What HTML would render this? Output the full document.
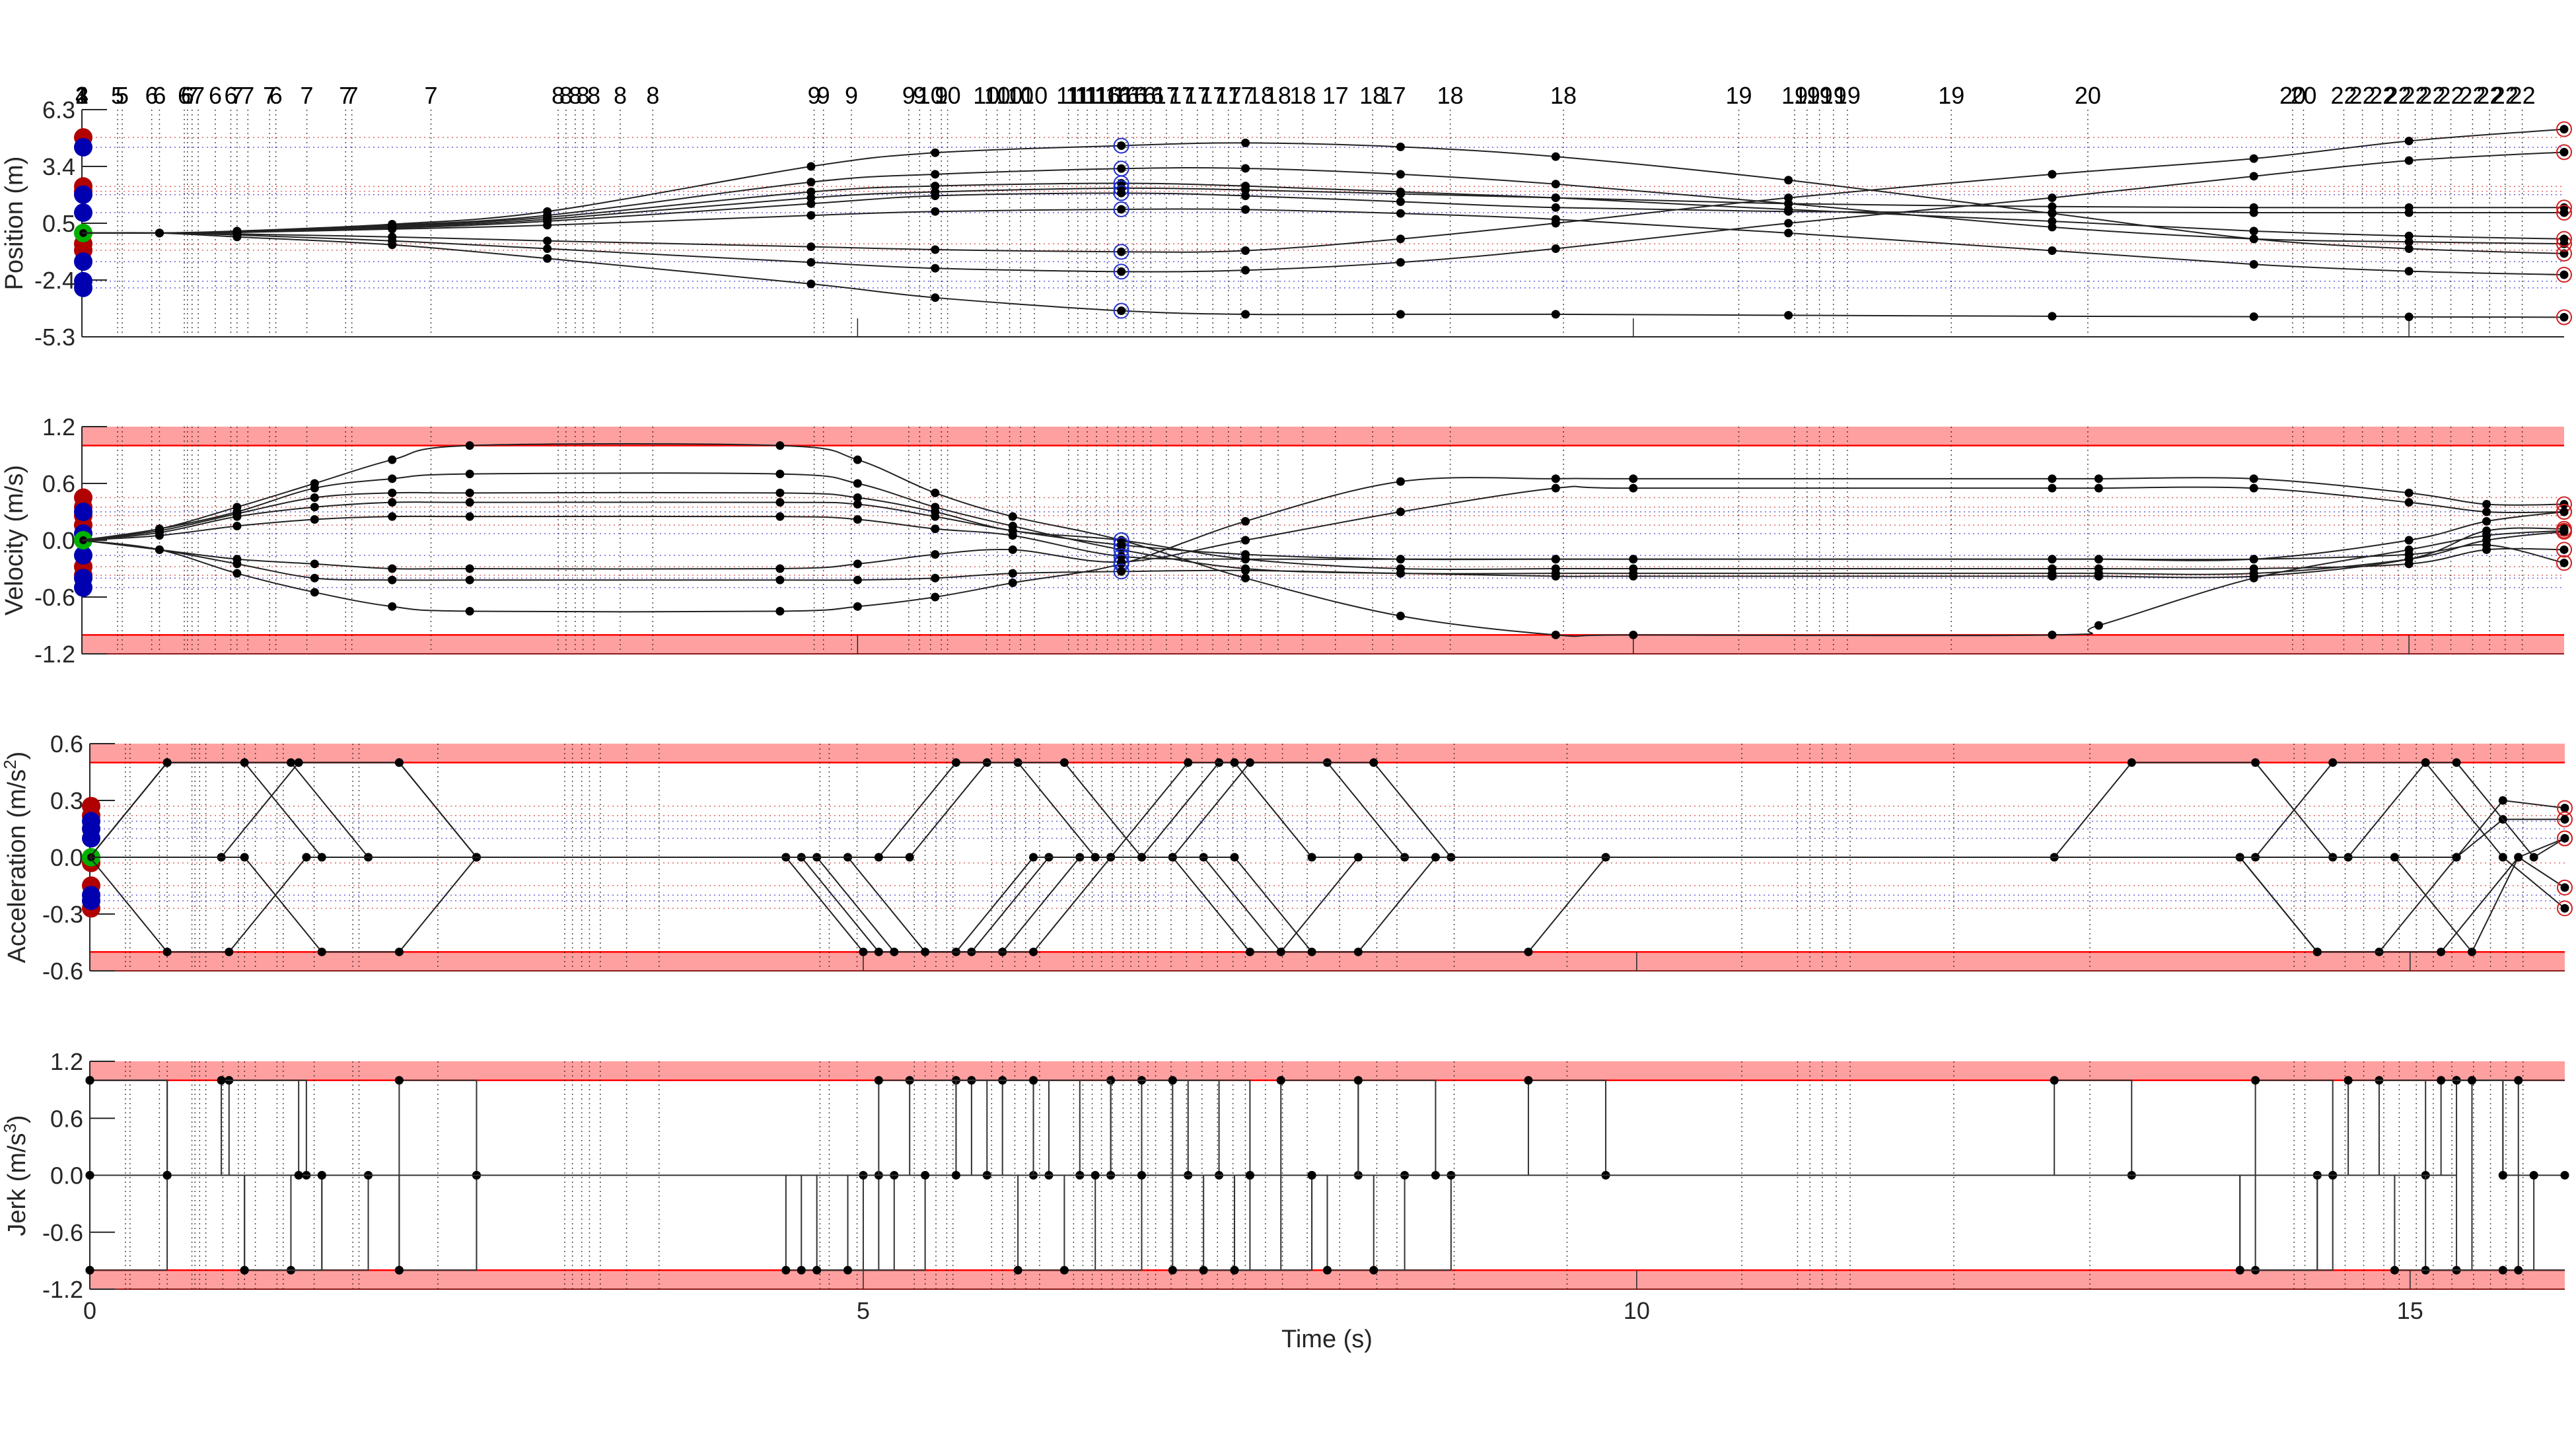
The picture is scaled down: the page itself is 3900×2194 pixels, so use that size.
<!DOCTYPE html>
<html><head><meta charset="utf-8"><style>
html,body{margin:0;padding:0;background:#fff;}
svg{display:block;font-family:"Liberation Sans","DejaVu Sans",sans-serif;}
</style></head><body>
<svg id="chart" xmlns="http://www.w3.org/2000/svg" width="3900" height="2194" viewBox="0 0 3900 2194">
<rect x="0" y="0" width="3900" height="2194" fill="#fff"/>
<text x="2009" y="2040" font-size="38" fill="#262626" text-anchor="middle">Time (s)</text>
<text transform="translate(34,338) rotate(-90)" font-size="38" fill="#262626" text-anchor="middle">Position (m)</text>
<text transform="translate(34,818) rotate(-90)" font-size="38" fill="#262626" text-anchor="middle">Velocity (m/s)</text>
<text transform="translate(38,1298) rotate(-90)" font-size="38" fill="#262626" text-anchor="middle">Acceleration (m/s<tspan font-size="26" dy="-14">2</tspan><tspan dy="14">)</tspan></text>
<text transform="translate(38,1780) rotate(-90)" font-size="38" fill="#262626" text-anchor="middle">Jerk (m/s<tspan font-size="26" dy="-14">3</tspan><tspan dy="14">)</tspan></text>
</svg>
<script>
// ---- data ----
const eventTimes = [0,0,0,0,0.23,0.26,0.45,0.5,0.66,0.68,0.71,0.75,0.86,0.96,1.0,1.07,1.21,1.25,1.45,1.7,1.74,2.25,3.07,3.12,3.18,3.23,3.3,3.47,3.68,4.72,4.78,4.96,5.33,5.4,5.47,5.54,5.58,5.83,5.9,5.98,6.05,6.14,6.36,6.42,6.48,6.54,6.61,6.68,6.73,6.78,6.84,6.89,6.99,7.09,7.19,7.29,7.39,7.47,7.6,7.71,7.87,8.08,8.32,8.45,8.82,9.55,10.68,11.04,11.12,11.2,11.29,11.38,12.05,12.93,14.25,14.32,14.58,14.7,14.83,14.93,15.04,15.15,15.27,15.41,15.52,15.62,15.73];
const eventLabels = ['1','2','3','4','5','5','6','6','6','6','7','7','6','6','7','7','7','6','7','7','7','7','8','8','8','8','8','8','8','9','9','9','9','9','10','9','10','10','10','10','10','10','11','11','11','11','16','16','16','16','16','16','17','17','17','17','17','17','18','18','18','17','18','17','18','18','19','19','19','19','19','19','19','20','20','20','22','22','22','22','22','22','22','22','22','22','22'];

const posTicks = [6.3,3.4,0.5,-2.4,-5.3];
const posTickLabels = ['6.3','3.4','0.5','-2.4','-5.3'];
const velTicks = [1.2,0.6,0,-0.6,-1.2];
const velTickLabels = ['1.2','0.6','0.0','-0.6','-1.2'];
const accTicks = [0.6,0.3,0,-0.3,-0.6];
const accTickLabels = ['0.6','0.3','0.0','-0.3','-0.6'];
const jerkTicks = [1.2,0.6,0,-0.6,-1.2];
const jerkTickLabels = ['1.2','0.6','0.0','-0.6','-1.2'];
const timeTicks = [0,5,10,15];
const timeTickLabels = ['0','5','10','15'];

const posKnotTimes = [0,0.5,1,2,3,4.7,5.5,6.7,7.5,8.5,9.5,11,12.7,14,15,16];
const posSeries1 = [0,0,0.1,0.45,1.1,3.4,4.1,4.46,4.6,4.4,3.9,2.7,1.0,-0.3,-0.8,-1.05];
const posSeries2 = [0,0,0.08,0.4,0.9,2.6,3.0,3.29,3.3,3.0,2.5,1.5,0.3,-0.3,-0.45,-0.55];
const posSeries3 = [0,0,0.06,0.35,0.8,2.1,2.4,2.54,2.4,2.1,1.8,1.2,0.6,0.1,-0.15,-0.3];
const posSeries4 = [0,0,0.05,0.3,0.7,1.8,2.1,2.29,2.2,2.0,1.8,1.5,1.35,1.3,1.3,1.3];
const posSeries5 = [0,0,0.04,0.25,0.6,1.5,1.9,2.04,1.9,1.6,1.3,1.1,1.05,1.04,1.04,1.04];
const posSeries6 = [0,0,0.03,0.2,0.4,0.9,1.1,1.21,1.2,1.0,0.7,0.0,-0.9,-1.6,-1.95,-2.13];
const posSeries7 = [0,0,-0.05,-0.2,-0.4,-0.7,-0.85,-0.96,-0.9,-0.3,0.5,1.8,3.0,3.8,4.7,5.3];
const posSeries8 = [0,0,-0.1,-0.4,-0.8,-1.5,-1.8,-1.97,-1.9,-1.5,-0.8,0.5,1.8,2.9,3.7,4.13];
const posSeries9 = [0,0,-0.2,-0.6,-1.3,-2.6,-3.3,-3.97,-4.15,-4.15,-4.15,-4.2,-4.25,-4.27,-4.28,-4.3];
const posStartRed = [4.88,2.38,2.13,-0.55,-0.88];
const posStartBlue = [4.38,1.96,1.04,-1.46,-2.46,-2.8];

const velKnotTimes = [0,0.5,1,1.5,2,2.5,4.5,5,5.5,6,6.7,7.5,8.5,9.5,10,12.7,13,14,15,15.5,16];
const velSeries1 = [0,0.12,0.35,0.6,0.85,1.0,1.0,0.85,0.5,0.25,0.0,-0.4,-0.8,-1.0,-1.0,-1.0,-0.9,-0.4,-0.1,0.05,0.1];
const velSeries2 = [0,-0.1,-0.35,-0.55,-0.7,-0.75,-0.75,-0.7,-0.6,-0.45,-0.25,0.2,0.62,0.65,0.65,0.65,0.65,0.65,0.5,0.38,0.38];
const velSeries3 = [0,0.12,0.3,0.55,0.65,0.7,0.7,0.6,0.35,0.15,-0.1,-0.3,-0.35,-0.35,-0.35,-0.35,-0.35,-0.35,-0.2,0.0,0.09];
const velSeries4 = [0,0.1,0.28,0.45,0.5,0.5,0.5,0.45,0.3,0.1,0.0,-0.2,-0.3,-0.3,-0.3,-0.3,-0.3,-0.3,-0.25,-0.1,-0.1];
const velSeries5 = [0,0.08,0.25,0.35,0.4,0.4,0.4,0.38,0.25,0.1,-0.05,-0.15,-0.2,-0.2,-0.2,-0.2,-0.2,-0.2,-0.15,-0.05,-0.24];
const velSeries6 = [0,0.05,0.15,0.22,0.25,0.25,0.25,0.22,0.12,0.05,-0.17,-0.2,-0.2,-0.2,-0.2,-0.2,-0.2,-0.2,0.0,0.2,0.3];
const velSeries7 = [0,-0.1,-0.2,-0.25,-0.3,-0.3,-0.3,-0.25,-0.15,-0.1,-0.23,0.0,0.3,0.55,0.55,0.55,0.55,0.55,0.4,0.3,0.3];
const velSeries8 = [0,-0.1,-0.25,-0.4,-0.42,-0.42,-0.42,-0.42,-0.4,-0.35,-0.33,-0.32,-0.35,-0.38,-0.38,-0.38,-0.38,-0.38,-0.2,0.1,0.12];
const velStartRed = [0.45,0.35,0.26,0.16,-0.28,-0.37];
const velStartBlue = [0.3,0.07,-0.16,-0.4,-0.5];

const accTimes1 = [0,0.5,2.0,2.5,4.5,5.0,5.9,6.4,7.0,7.5,9.3,9.8,12.7,13.2,14.0,14.5,15.3,15.6,16];
const accVals1 = [0,0.5,0.5,0,0,-0.5,-0.5,0,0,-0.5,-0.5,0,0,0.5,0.5,0,0,0.3,0.26];
const jerkVals1 = [1,0,-1,0,-1,0,1,0,-1,0,1,0,1,0,-1,0,1,0];
const accTimes2 = [0,0.5,0.9,1.4,4.6,5.1,5.7,6.2,6.8,7.3,8.0,8.5,13.9,14.4,14.8,15.3,15.6,16];
const accVals2 = [0,-0.5,-0.5,0,0,-0.5,-0.5,0,0,0.5,0.5,0,0,-0.5,-0.5,0,0.2,0.2];
const jerkVals2 = [-1,0,1,0,-1,0,1,0,1,0,-1,0,-1,0,1,1,0];
const accTimes3 = [0,0.5,1.3,1.8,4.7,5.2,5.6,6.1,6.6,7.1,7.4,7.9,14.6,15.1,15.3,15.8,16];
const accVals3 = [0,0.5,0.5,0,0,-0.5,-0.5,0,0,0.5,0.5,0,0,0.5,0.5,0,0.1];
const jerkVals3 = [1,0,-1,0,-1,0,1,0,1,0,-1,0,1,0,-1,0];
const accTimes4 = [0,0.85,1.35,2.0,2.5,4.9,5.4,6.1,6.6,7.2,7.7,8.2,14.0,14.5,15.1,15.6,16];
const accVals4 = [0,0,0.5,0.5,0,0,-0.5,-0.5,0,0,-0.5,0,0,0.5,0.5,0,-0.27];
const jerkVals4 = [0,1,0,-1,0,-1,0,1,0,-1,1,0,1,0,-1,-1];
const accTimes5 = [0,1.0,1.5,2.0,2.5,5.3,5.8,6.0,6.5,7.0,7.5,8.3,8.8,13.9,14.4,15.2,15.7,16];
const accVals5 = [0,0,-0.5,-0.5,0,0,0.5,0.5,0,0,0.5,0.5,0,0,-0.5,-0.5,0,-0.16];
const jerkVals5 = [0,-1,0,1,0,1,0,-1,0,1,0,-1,0,-1,0,1,-1];
const accTimes6 = [0,0.5,1.0,1.5,5.1,5.6,6.3,6.8,7.4,7.9,8.2,8.7,14.9,15.4,15.7,16];
const accVals6 = [0,0.5,0.5,0,0,0.5,0.5,0,0,-0.5,-0.5,0,0,-0.5,0,0.1];
const jerkVals6 = [1,0,-1,0,1,0,-1,0,-1,0,1,0,-1,1,1];
const accStartRed = [0.27,0.22,-0.03,-0.15,-0.27];
const accStartBlue = [0.19,0.15,0.1,-0.2,-0.23];
const jerkStart = [1,-1];

// ---- layout ----
const NS='http://www.w3.org/2000/svg';
const svg=document.getElementById('chart');
const panels=[
 {name:'position',top:166,bot:510,left:124,right:3882,min:-5.3,max:6.3,ticks:posTicks,labels:posTickLabels,band:null},
 {name:'velocity',top:646,bot:990,left:124,right:3882,min:-1.2,max:1.2,ticks:velTicks,labels:velTickLabels,band:1.0},
 {name:'acceleration',top:1126,bot:1470,left:136,right:3883,min:-0.6,max:0.6,ticks:accTicks,labels:accTickLabels,band:0.5},
 {name:'jerk',top:1607,bot:1952,left:136,right:3883,min:-1.2,max:1.2,ticks:jerkTicks,labels:jerkTickLabels,band:1.0}
];
function mk(tag,attrs,parent){const e=document.createElementNS(NS,tag);for(const k in attrs)e.setAttribute(k,attrs[k]);(parent||svg).appendChild(e);return e;}
function X(p,t){return p.left+(t/16)*(p.right-p.left);}
function Y(p,v){return p.bot-(v-p.min)/(p.max-p.min)*(p.bot-p.top);}
function smoothPath(p,ts,vs){
  const pts=ts.map((t,i)=>[X(p,t),Y(p,vs[i])]);
  let d='M'+pts[0][0]+','+pts[0][1];
  for(let i=0;i<pts.length-1;i++){
    const p0=pts[Math.max(0,i-1)],p1=pts[i],p2=pts[i+1],p3=pts[Math.min(pts.length-1,i+2)];
    const c1=[p1[0]+(p2[0]-p0[0])/6,p1[1]+(p2[1]-p0[1])/6];
    const c2=[p2[0]-(p3[0]-p1[0])/6,p2[1]-(p3[1]-p1[1])/6];
    d+=' C'+c1[0]+','+c1[1]+' '+c2[0]+','+c2[1]+' '+p2[0]+','+p2[1];
  }
  return d;
}

panels.forEach((p,pi)=>{
  const g=mk('g',{});
  
  
  if(p.band!==null){
    const b1=mk('rect',{x:p.left,y:Y(p,p.max),width:p.right-p.left,height:Y(p,p.band)-Y(p,p.max),fill:'#ffa0a0'},g);
    
    
    const b2=mk('rect',{x:p.left,y:Y(p,-p.band),width:p.right-p.left,height:Y(p,p.min)-Y(p,-p.band),fill:'#ffa0a0'},g);
    
    
    [p.band,-p.band].forEach(v=>{const l=mk('line',{x1:p.left,x2:p.right,y1:Y(p,v),y2:Y(p,v),stroke:'#ff0000','stroke-width':2.5},g);
      
      });
  }
  // event grid lines
  eventTimes.forEach(t=>{const l=mk('line',{x1:X(p,t),x2:X(p,t),y1:p.top,y2:p.bot,stroke:'#000','stroke-width':1.5,'stroke-dasharray':'2,5',opacity:0.7},g);
    
    });
  // axes
  const ax=mk('line',{x1:p.left,x2:p.left,y1:p.top,y2:p.bot,stroke:'#262626','stroke-width':2},g);
  
  
  const bx=mk('line',{x1:p.left,x2:p.right,y1:p.bot,y2:p.bot,stroke:p.band!==null?'#8b1a1a':'#262626','stroke-width':2},g);
  
  
  p.ticks.forEach((v,i)=>{
    const tk=mk('line',{x1:p.left,x2:p.left+38,y1:Y(p,v),y2:Y(p,v),stroke:'#262626','stroke-width':2},g);
    
    
    const tx=mk('text',{x:p.left-10,y:Y(p,v)+13,'font-size':36,fill:'#262626','text-anchor':'end'},g);
    tx.textContent=p.labels[i];
    
    
  });
  timeTicks.forEach(t=>{if(t===0)return;
    const tk=mk('line',{x1:X(p,t),x2:X(p,t),y1:p.bot,y2:p.bot-28,stroke:'#262626','stroke-width':1.5},g);
    
    });
  p.g=g;
});

// top event labels
eventTimes.forEach((t,i)=>{
  const tx=mk('text',{x:X(panels[0],t),y:157,'font-size':36,fill:'#000','text-anchor':'middle'});
  tx.textContent=eventLabels[i];
  
  
});
// x tick labels
timeTicks.forEach((t,i)=>{
  const tx=mk('text',{x:X(panels[3],t),y:1997,'font-size':36,fill:'#262626','text-anchor':'middle'});
  tx.textContent=timeTickLabels[i];
  
  
});

function startMarkers(p,reds,blues){
  reds.forEach(v=>{const l=mk('line',{x1:p.left,x2:p.right,y1:Y(p,v),y2:Y(p,v),stroke:'#cc0000','stroke-width':1.5,'stroke-dasharray':'2,5',opacity:0.6},p.g);
    
    });
  blues.forEach(v=>{const l=mk('line',{x1:p.left,x2:p.right,y1:Y(p,v),y2:Y(p,v),stroke:'#0000cc','stroke-width':1.5,'stroke-dasharray':'2,5',opacity:0.6},p.g);
    
    });
  reds.forEach(v=>{const c=mk('circle',{cx:p.left+2,cy:Y(p,v),r:14,fill:'#b00000'},p.g);
    
    });
  blues.forEach(v=>{const c=mk('circle',{cx:p.left+2,cy:Y(p,v),r:14,fill:'#0000b0'},p.g);
    
    });
  const gc=mk('circle',{cx:p.left+2,cy:Y(p,0),r:14,fill:'#00b000'},p.g);
  
  
  const gd=mk('circle',{cx:p.left+2,cy:Y(p,0),r:6,fill:'#000'},p.g);
  
  
}

function smoothSeries(p,ts,series,label,midT){
  series.forEach((vs,si)=>{
    const path=mk('path',{d:smoothPath(p,ts,vs),fill:'none',stroke:'#222','stroke-width':2},p.g);
    
    
  });
  series.forEach((vs,si)=>{
    ts.forEach((t,i)=>{if(i===0)return;
      const c=mk('circle',{cx:X(p,t),cy:Y(p,vs[i]),r:6.5,fill:'#000'},p.g);
      
      
      if(t===midT){const o=mk('circle',{cx:X(p,t),cy:Y(p,vs[i]),r:11,fill:'none',stroke:'#2030d0','stroke-width':2},p.g);
        
        }
      if(i===ts.length-1){const o=mk('circle',{cx:X(p,t),cy:Y(p,vs[i]),r:11,fill:'none',stroke:'#d02020','stroke-width':2},p.g);
        
        }
    });
  });
}

// position
startMarkers(panels[0],posStartRed,posStartBlue);
smoothSeries(panels[0],posKnotTimes,[posSeries1,posSeries2,posSeries3,posSeries4,posSeries5,posSeries6,posSeries7,posSeries8,posSeries9],'position',6.7);
// velocity
startMarkers(panels[1],velStartRed,velStartBlue);
smoothSeries(panels[1],velKnotTimes,[velSeries1,velSeries2,velSeries3,velSeries4,velSeries5,velSeries6,velSeries7,velSeries8],'velocity',6.7);

// acceleration
const accSets=[[accTimes1,accVals1,jerkVals1],[accTimes2,accVals2,jerkVals2],[accTimes3,accVals3,jerkVals3],[accTimes4,accVals4,jerkVals4],[accTimes5,accVals5,jerkVals5],[accTimes6,accVals6,jerkVals6]];
startMarkers(panels[2],accStartRed,accStartBlue);
const pa=panels[2];
accSets.forEach((s,si)=>{
  const pts=s[0].map((t,i)=>X(pa,t)+','+Y(pa,s[1][i])).join(' ');
  const pl=mk('polyline',{points:pts,fill:'none',stroke:'#222','stroke-width':2},pa.g);
  
  
  s[0].forEach((t,i)=>{if(i===0)return;
    const c=mk('circle',{cx:X(pa,t),cy:Y(pa,s[1][i]),r:6.5,fill:'#000'},pa.g);
    
    
    if(i===s[0].length-1){const o=mk('circle',{cx:X(pa,t),cy:Y(pa,s[1][i]),r:11,fill:'none',stroke:'#d02020','stroke-width':2},pa.g);
      
      }
  });
});

// jerk
const pj=panels[3];
accSets.forEach((s,si)=>{
  const ts=s[0],js=s[2];
  let d='';
  for(let i=0;i<js.length;i++){
    d+=(i===0?'M':' L')+X(pj,ts[i])+','+Y(pj,js[i])+' L'+X(pj,ts[i+1])+','+Y(pj,js[i]);
  }
  const path=mk('path',{d:d,fill:'none',stroke:'#333','stroke-width':2},pj.g);
  
  
  js.forEach((j,i)=>{
    const c=mk('circle',{cx:X(pj,ts[i]),cy:Y(pj,j),r:6.5,fill:'#000'},pj.g);
    
    
  });
});
jerkStart.forEach(v=>{const c=mk('circle',{cx:X(pj,0),cy:Y(pj,v),r:6.5,fill:'#000'},pj.g);
  
  });
const endDot=mk('circle',{cx:X(pj,16),cy:Y(pj,0),r:6.5,fill:'#000'},pj.g);


</script>
</body></html>
